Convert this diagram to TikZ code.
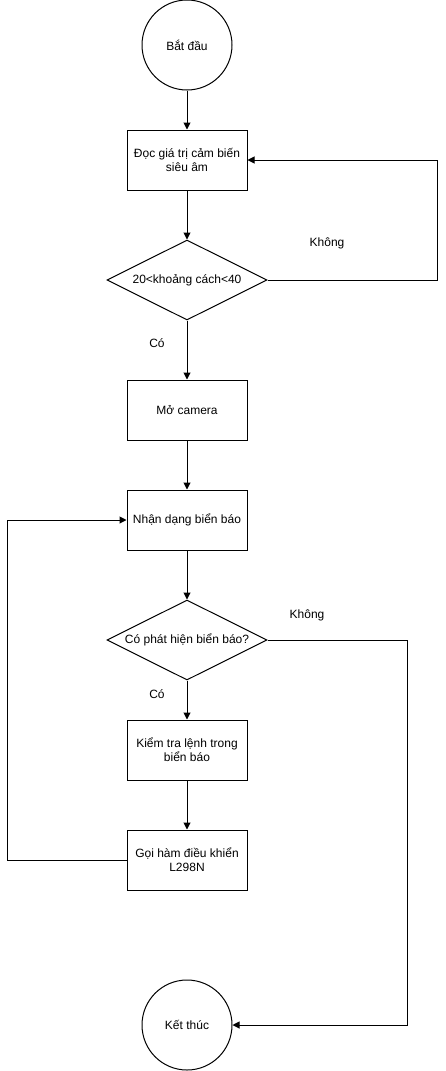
\documentclass[tikz,border=0pt]{standalone}
\usepackage{fontspec}
\setmainfont{Liberation Sans}
\usetikzlibrary{shapes.geometric,arrows.meta}
\begin{document}
\begin{tikzpicture}[x=1pt,y=-1pt,
  every node/.style={font=\fontsize{12}{14}\selectfont},
  term/.style={circle,draw,line width=1pt,minimum size=90pt,inner sep=0pt},
  proc/.style={rectangle,draw,line width=1pt,minimum width=120pt,minimum height=60pt,align=center,inner sep=2pt},
  decide/.style={diamond,draw,line width=1pt,minimum width=160pt,minimum height=80pt,aspect=2,inner sep=0pt},
  lbl/.style={inner sep=0pt},
  conn/.style={line width=1pt,-{Triangle[length=7pt,width=7pt]}},
  line/.style={line width=1pt}]
\useasboundingbox (0,0) rectangle (446,1071);
\node[term] (start) at (187,45) {Bắt đầu};
\node[proc] (read) at (187,160) {Đọc giá trị cảm biến\\siêu âm};
\node[decide] (d1) at (187,280) {20<khoảng cách<40};
\node[proc] (cam) at (187,410) {Mở camera};
\node[proc] (rec) at (187,520) {Nhận dạng biển báo};
\node[decide] (d2) at (187,640) {Có phát hiện biển báo?};
\node[proc] (chk) at (187,750) {Kiểm tra lệnh trong\\biển báo};
\node[proc] (call) at (187,860) {Gọi hàm điều khiển\\L298N};
\node[term] (stop) at (187,1025) {Kết thúc};
\coordinate (r1) at (437,280);
\coordinate (r2) at (437,160);
\coordinate (l1) at (7,860);
\coordinate (l2) at (7,520);
\coordinate (r3) at (407,640);
\coordinate (r4) at (407,1025);
\draw[conn] (start) -- (read);
\draw[conn] (read) -- (d1);
\draw[conn] (d1) -- (cam);
\draw[conn] (cam) -- (rec);
\draw[conn] (rec) -- (d2);
\draw[conn] (d2) -- (chk);
\draw[conn] (chk) -- (call);
\draw[conn] (d1.east) -- (r1) -- (r2) -- (read.east);
\draw[conn] (call.west) -- (l1) -- (l2) -- (rec.west);
\draw[conn] (d2.east) -- (r3) -- (r4) -- (stop.east);
\node[lbl] (k1) at (327,243) {Không};
\node[lbl] (c1) at (157,343) {Có};
\node[lbl] (k2) at (307,615) {Không};
\node[lbl] (c2) at (157,694) {Có};
\end{tikzpicture}
\end{document}
